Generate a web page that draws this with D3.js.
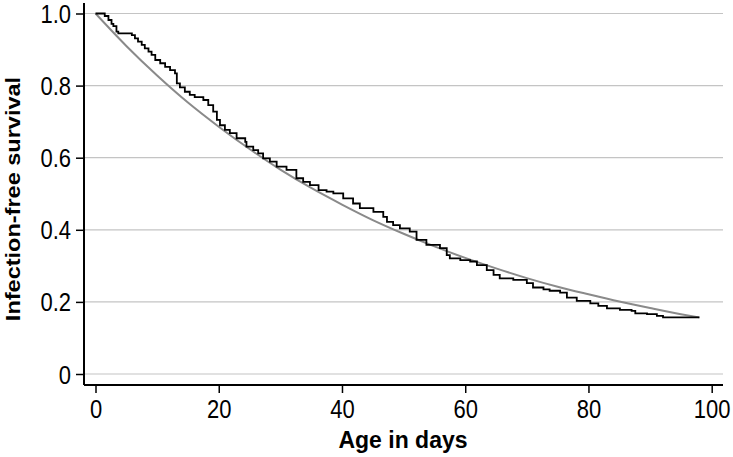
<!DOCTYPE html>
<html>
<head>
<meta charset="utf-8">
<script src="https://cdn.jsdelivr.net/npm/d3@7"></script>
<style>
  html, body { margin: 0; padding: 0; background: #fff; }
  svg { display: block; }
  text { font-family: "Liberation Sans", Arial, Helvetica, sans-serif; }
</style>
</head>
<body>
<svg id="chart" width="733" height="457"></svg>
<script>
// Kaplan-Meier step curve (days, survival)
const kmDays = [0, 1.5, 2.1, 2.6, 2.9, 3.4, 3.7, 5.9, 6.4, 6.9, 7.5, 8.0, 8.6, 9.1, 9.7, 10.5, 11.3, 12.1, 12.9, 13.2, 13.7, 14.5, 15.3, 16.1, 17.5, 18.3, 19.1, 19.7, 20.2, 21.0, 21.8, 22.9, 24.3, 24.5, 25.6, 26.4, 27.2, 28.3, 29.4, 31.0, 32.6, 33.7, 34.8, 36.2, 37.5, 38.6, 40.2, 41.8, 42.9, 45.1, 46.7, 47.3, 48.3, 49.4, 51.0, 52.1, 53.7, 55.9, 57.0, 57.5, 59.2, 60.8, 61.9, 63.5, 64.6, 65.6, 67.8, 70.0, 71.0, 72.7, 73.7, 75.4, 76.5, 78.1, 80.3, 81.6, 83.0, 85.1, 87.0, 87.6, 89.5, 91.1, 92.1, 98];
const kmSurv = [1, 0.993, 0.982, 0.971, 0.965, 0.950, 0.945, 0.940, 0.931, 0.922, 0.913, 0.903, 0.894, 0.885, 0.871, 0.862, 0.852, 0.843, 0.834, 0.806, 0.795, 0.783, 0.774, 0.768, 0.760, 0.746, 0.728, 0.705, 0.690, 0.677, 0.668, 0.654, 0.644, 0.631, 0.621, 0.612, 0.598, 0.589, 0.575, 0.566, 0.543, 0.533, 0.524, 0.510, 0.506, 0.501, 0.487, 0.473, 0.460, 0.450, 0.436, 0.422, 0.413, 0.404, 0.395, 0.372, 0.358, 0.349, 0.330, 0.321, 0.316, 0.312, 0.302, 0.288, 0.275, 0.265, 0.261, 0.252, 0.240, 0.235, 0.231, 0.226, 0.212, 0.203, 0.196, 0.189, 0.182, 0.178, 0.175, 0.168, 0.166, 0.161, 0.157, 0.157];

// Fitted smooth curve (days, survival)
const fitDays = [0, 5, 10, 15, 20, 25, 30, 35, 40, 45, 50, 55, 60, 65, 70, 75, 80, 85, 90, 95, 98];
const fitSurv = [1.0, 0.910, 0.828, 0.753, 0.686, 0.624, 0.567, 0.516, 0.470, 0.427, 0.389, 0.354, 0.322, 0.293, 0.266, 0.242, 0.221, 0.201, 0.183, 0.166, 0.157];

const xTicks = [0, 20, 40, 60, 80, 100];
const yTicks = [0, 0.2, 0.4, 0.6, 0.8, 1.0];
const yTickLabels = ["0", "0.2", "0.4", "0.6", "0.8", "1.0"];
const xTitle = "Age in days";
const yTitle = "Infection-free survival";

const svg = d3.select("#chart");
const plotLeft = 84, plotRight = 723, plotTop = 3, plotBottom = 385;
const stretch = 1.15;

const x = d3.scaleLinear().domain([0, 100]).range([95.5, 711.7]);
const y = d3.scaleLinear().domain([0, 1]).range([374, 13.5]);

// gridlines
svg.append("g").selectAll("line").data(yTicks).join("line")
  .attr("x1", plotLeft).attr("x2", plotRight)
  .attr("y1", d => y(d)).attr("y2", d => y(d))
  .attr("stroke", "#c4c4c4").attr("stroke-width", 1.2);

// fitted curve
const fitData = fitDays.map((d, i) => [d, fitSurv[i]]);
svg.append("path").datum(fitData)
  .attr("fill", "none").attr("stroke", "#8a8a8a").attr("stroke-width", 2)
  .attr("d", d3.line().x(d => x(d[0])).y(d => y(d[1])).curve(d3.curveMonotoneX));

// KM step curve
const kmData = kmDays.map((d, i) => [d, kmSurv[i]]);
svg.append("path").datum(kmData)
  .attr("fill", "none").attr("stroke", "#000").attr("stroke-width", 1.8)
  .attr("d", d3.line().x(d => x(d[0])).y(d => y(d[1])).curve(d3.curveStepAfter));

// axes
const yAxis = d3.axisLeft(y).tickValues(yTicks).tickFormat((d, i) => yTickLabels[i]).tickSize(8).tickPadding(4);
const gy = svg.append("g").attr("transform", `translate(${plotLeft},0)`).call(yAxis);
gy.select(".domain").remove();
gy.append("line").attr("x1", 0).attr("x2", 0).attr("y1", plotTop).attr("y2", plotBottom)
  .attr("stroke", "#000").attr("stroke-width", 2);
gy.selectAll(".tick line").attr("stroke", "#000").attr("stroke-width", 1.5);
gy.selectAll(".tick text").attr("font-size", 22).attr("fill", "#000")
  .attr("font-family", "'Liberation Sans', Arial, sans-serif")
  .attr("x", -13).attr("y", 7.9).attr("dy", 0)
  .attr("transform", `scale(1,${stretch})`);

const xAxis = d3.axisBottom(x).tickValues(xTicks).tickSize(8).tickPadding(4);
const gx = svg.append("g").attr("transform", `translate(0,${plotBottom})`).call(xAxis);
gx.select(".domain").remove();
gx.append("line").attr("x1", plotLeft).attr("x2", plotRight).attr("y1", 0).attr("y2", 0)
  .attr("stroke", "#000").attr("stroke-width", 2);
gx.selectAll(".tick line").attr("stroke", "#000").attr("stroke-width", 1.5);
gx.selectAll(".tick text").attr("font-size", 22).attr("fill", "#000")
  .attr("font-family", "'Liberation Sans', Arial, sans-serif")
  .attr("y", 33 / stretch).attr("dy", 0)
  .attr("transform", `scale(1,${stretch})`);

// titles
svg.append("text").attr("transform", `translate(403,448) scale(1,1.05)`)
  .attr("text-anchor", "middle").attr("font-size", 23).attr("font-weight", "bold")
  .text(xTitle);
svg.append("text").attr("transform", `translate(20,199) rotate(-90) scale(1.12,1)`)
  .attr("text-anchor", "middle").attr("font-size", 21).attr("font-weight", "bold")
  .text(yTitle);
</script>
</body>
</html>
